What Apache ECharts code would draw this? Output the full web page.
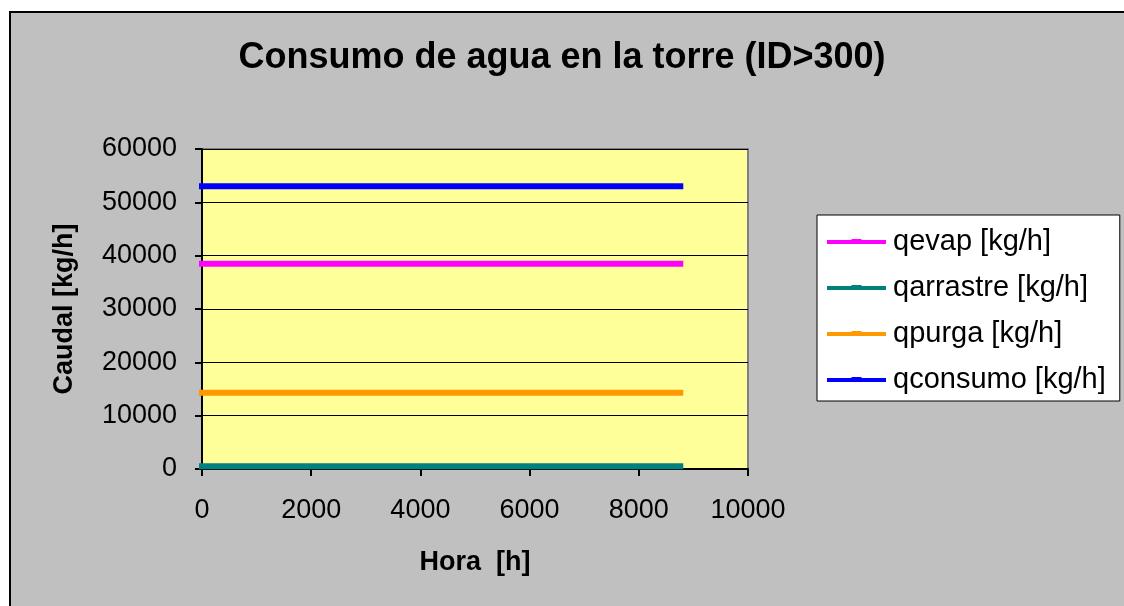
<!DOCTYPE html>
<html>
<head>
<meta charset="utf-8">
<title>Consumo de agua en la torre (ID>300)</title>
<script src="https://cdn.jsdelivr.net/npm/echarts@6/dist/echarts.min.js"></script>
<style>
  html, body { margin: 0; padding: 0; background: #ffffff; }
  #chart { width: 1124px; height: 606px; }
</style>
</head>
<body>
<div id="chart"></div>
<script>
// Hourly water flows of the cooling tower over one year (kg/h)
const hours     = [0, 8760];
const qevap     = [38500, 38500];
const qarrastre = [500, 500];
const qpurga    = [14300, 14300];
const qconsumo  = [53000, 53000];

const yTicks = [0, 10000, 20000, 30000, 40000, 50000, 60000];
const xTicks = [0, 2000, 4000, 6000, 8000, 10000];

const seriesDefs = [
  { name: 'qevap [kg/h]',     values: qevap,     color: '#ff00ff' },
  { name: 'qarrastre [kg/h]', values: qarrastre, color: '#008080' },
  { name: 'qpurga [kg/h]',    values: qpurga,    color: '#ff9900' },
  { name: 'qconsumo [kg/h]',  values: qconsumo,  color: '#0000ff' }
];

const FONT = '"Liberation Sans", Arial, sans-serif';
const plain = v => String(v);

const chart = echarts.init(document.getElementById('chart'), null, { renderer: 'canvas' });

chart.setOption({
  animation: false,
  backgroundColor: '#ffffff',
  textStyle: { fontFamily: FONT, color: '#000000' },
  graphic: [{
    type: 'rect',
    z: -10,
    silent: true,
    shape: { x: 10, y: 12, width: 1130, height: 610 },
    style: { fill: '#c0c0c0', stroke: '#000000', lineWidth: 2 }
  }],
  title: {
    text: 'Consumo de agua en la torre (ID>300)',
    left: 'center',
    top: 35,
    textStyle: { fontFamily: FONT, fontSize: 36, fontWeight: 'bold', color: '#000000' }
  },
  legend: {
    orient: 'vertical',
    left: 817,
    top: 215,
    width: 290,
    backgroundColor: '#ffffff',
    borderColor: '#000000',
    borderWidth: 1,
    padding: [12, 14, 7, 10],
    itemGap: 17,
    itemWidth: 59,
    itemHeight: 28,
    icon: 'path://M0,13 L24,13 L25,12 L34,12 L35,13 L59,13 L59,17 L0,17 Z',
    textStyle: { fontFamily: FONT, fontSize: 29, color: '#000000', padding: [0, 0, 0, 2] },
    data: seriesDefs.map(s => s.name)
  },
  grid: {
    left: 202,
    top: 149,
    right: 376,
    bottom: 137,
    show: true,
    backgroundColor: '#ffff99',
    borderColor: '#808080',
    borderWidth: 2
  },
  xAxis: {
    type: 'value',
    min: xTicks[0],
    max: xTicks[xTicks.length - 1],
    interval: xTicks[1] - xTicks[0],
    name: 'Hora  [h]',
    nameLocation: 'middle',
    nameGap: 80,
    nameTextStyle: { fontFamily: FONT, fontSize: 27, fontWeight: 'bold', color: '#000000' },
    axisLine: { show: true, lineStyle: { color: '#000000', width: 2 } },
    axisTick: { show: true, inside: false, length: 7, lineStyle: { color: '#000000', width: 2 } },
    axisLabel: { fontFamily: FONT, fontSize: 27, color: '#000000', margin: 28, formatter: plain },
    splitLine: { show: false }
  },
  yAxis: {
    type: 'value',
    min: yTicks[0],
    max: yTicks[yTicks.length - 1],
    interval: yTicks[1] - yTicks[0],
    name: 'Caudal [kg/h]',
    nameLocation: 'middle',
    nameGap: 124,
    nameTextStyle: { fontFamily: FONT, fontSize: 27, fontWeight: 'bold', color: '#000000' },
    axisLine: { show: true, lineStyle: { color: '#000000', width: 2 } },
    axisTick: { show: true, inside: false, length: 7, lineStyle: { color: '#000000', width: 2 } },
    axisLabel: { fontFamily: FONT, fontSize: 27, color: '#000000', margin: 25, formatter: plain },
    splitLine: { show: true, lineStyle: { color: '#000000', width: 1 } }
  },
  series: seriesDefs.map(s => ({
    name: s.name,
    type: 'line',
    clip: false,
    symbol: 'none',
    color: s.color,
    lineStyle: { color: s.color, width: 6, cap: 'square' },
    itemStyle: { color: s.color },
    data: hours.map((h, i) => [h, s.values[i]])
  }))
});
</script>
</body>
</html>
